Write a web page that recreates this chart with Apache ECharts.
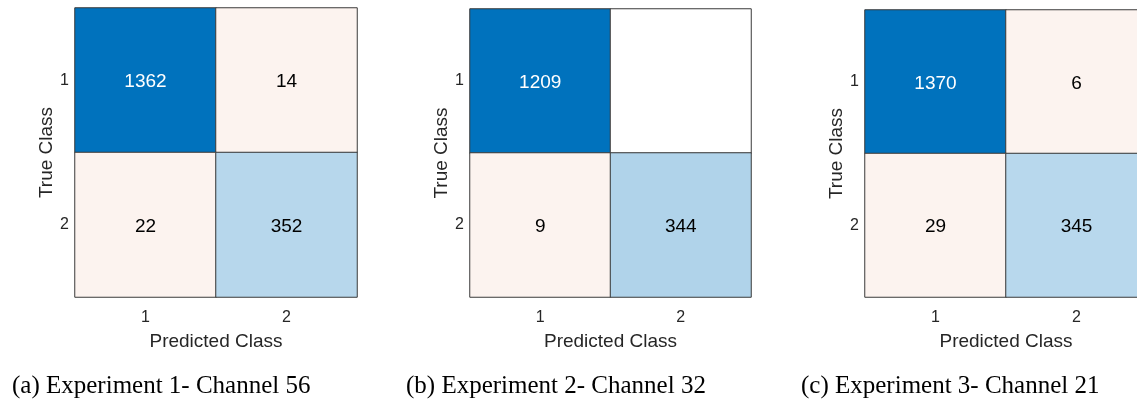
<!DOCTYPE html>
<html>
<head>
<meta charset="utf-8">
<script src="https://cdn.jsdelivr.net/npm/echarts@6/dist/echarts.min.js"></script>
<style>
  html, body { margin: 0; padding: 0; background: #fff; overflow: hidden; }
  /* the canvas is a little wider than the page so the last panel runs off the edge */
  #chart { width: 1152px; height: 402px; }
</style>
</head>
<body>
<div id="chart"></div>
<script>
// Class labels shared by all three confusion matrices
const predictedClasses = ['1', '2'];
const trueClasses = ['1', '2'];

// Confusion counts, row = true class, column = predicted class
const exp1Counts = [[1362, 14], [22, 352]];
const exp2Counts = [[1209, 0], [9, 344]];
const exp3Counts = [[1370, 6], [29, 345]];

const captions = [
  '(a) Experiment 1- Channel 56',
  '(b) Experiment 2- Channel 32',
  '(c) Experiment 3- Channel 21'
];

// Panel geometry (pixels)
const panels = [
  { left: 75, top: 8, width: 282, height: 289, capLeft: 12 },
  { left: 470, top: 9, width: 281, height: 288, capLeft: 406 },
  { left: 865, top: 10, width: 282, height: 287, capLeft: 801 }
];

const DIAG = [0, 114, 189];      // blue for correct predictions
const OFF = [217, 83, 25];       // orange tint for errors

function mix(rgb, t) {
  const c = rgb.map(v => Math.round(255 - t * (255 - v)));
  return 'rgb(' + c.join(',') + ')';
}

function cellColor(value, row, col, maxVal) {
  if (value === 0) return '#ffffff';
  if (row === col) return mix(DIAG, Math.pow(value / maxVal, 0.93));
  return mix(OFF, 0.07);
}

const allCounts = [exp1Counts, exp2Counts, exp3Counts];
const grids = [], xAxes = [], yAxes = [], series = [], titles = [];

allCounts.forEach((counts, i) => {
  const p = panels[i];
  const maxVal = Math.max(...counts.flat());
  grids.push({ left: p.left, top: p.top, width: p.width, height: p.height, containLabel: false });
  xAxes.push({
    type: 'category', gridIndex: i, data: predictedClasses,
    name: 'Predicted Class', nameLocation: 'middle', nameGap: 35,
    nameTextStyle: { fontFamily: 'Liberation Sans, Arial', fontSize: 19, color: '#262626' },
    axisTick: { show: false },
    axisLine: { show: false },
    axisLabel: { fontFamily: 'Liberation Sans, Arial', fontSize: 16, color: '#262626', margin: 13 },
    splitLine: { show: false }
  });
  yAxes.push({
    type: 'category', gridIndex: i, data: trueClasses, inverse: true,
    name: 'True Class', nameLocation: 'middle', nameGap: 19, nameRotate: 90,
    nameTextStyle: { fontFamily: 'Liberation Sans, Arial', fontSize: 19, color: '#262626' },
    axisTick: { show: false },
    axisLine: { show: false },
    axisLabel: { fontFamily: 'Liberation Sans, Arial', fontSize: 16, color: '#262626', margin: 6 },
    splitLine: { show: false }
  });
  const data = [];
  counts.forEach((row, r) => row.forEach((v, c) => {
    data.push({
      value: [c, r, v],
      itemStyle: { color: cellColor(v, r, c, maxVal) },
      label: { color: (r === c && v / maxVal > 0.6) ? '#ffffff' : '#000000' }
    });
  }));
  series.push({
    type: 'heatmap', xAxisIndex: i, yAxisIndex: i, data,
    itemStyle: { borderColor: '#3a3a3a', borderWidth: 1 },
    label: {
      show: true, fontFamily: 'Liberation Sans, Arial', fontSize: 19, offset: [0, 2],
      formatter: prm => prm.value[2] === 0 ? '' : String(prm.value[2])
    },
    emphasis: { disabled: true }
  });
  titles.push({
    text: captions[i], left: p.capLeft, top: 374, padding: 0,
    textStyle: { fontFamily: 'Liberation Serif, Times New Roman', fontSize: 25, fontWeight: 'normal', color: '#000' }
  });
});

const chart = echarts.init(document.getElementById('chart'), null, { renderer: 'canvas' });
chart.setOption({
  animation: false,
  backgroundColor: '#ffffff',
  title: titles,
  grid: grids,
  xAxis: xAxes,
  yAxis: yAxes,
  series
});
</script>
</body>
</html>
